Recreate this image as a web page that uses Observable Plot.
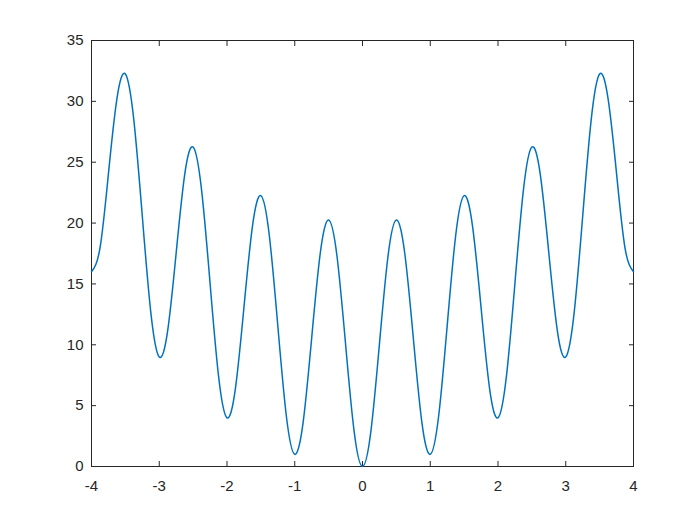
<!DOCTYPE html>
<html>
<head>
<meta charset="utf-8">
<script src="https://cdn.jsdelivr.net/npm/d3@7"></script>
<script src="https://cdn.jsdelivr.net/npm/@observablehq/plot@0.6"></script>
<style>
  html, body { margin: 0; padding: 0; background: #fff; }
  #chart svg { display: block; }
</style>
</head>
<body>
<div id="chart"></div>
<script>
// Sample positions (step 0.125) and curve values
const xValues = [
  -4, -3.875, -3.75, -3.625, -3.5, -3.375, -3.25, -3.125,
  -3, -2.875, -2.75, -2.625, -2.5, -2.375, -2.25, -2.125,
  -2, -1.875, -1.75, -1.625, -1.5, -1.375, -1.25, -1.125,
  -1, -0.875, -0.75, -0.625, -0.5, -0.375, -0.25, -0.125,
  0, 0.125, 0.25, 0.375, 0.5, 0.625, 0.75, 0.875,
  1, 1.125, 1.25, 1.375, 1.5, 1.625, 1.75, 1.875,
  2, 2.125, 2.25, 2.375, 2.5, 2.625, 2.75, 2.875,
  3, 3.125, 3.25, 3.375, 3.5, 3.625, 3.75, 3.875, 4
];
const yValues = [
  16, 17.94, 24.06, 30.21, 32.25, 28.46, 20.56, 12.69,
  9, 11.19, 17.56, 23.96, 26.25, 22.71, 15.06, 7.44,
  4, 6.44, 13.06, 19.71, 22.25, 18.96, 11.56, 4.19,
  1, 3.69, 10.56, 17.46, 20.25, 17.21, 10.06, 2.94,
  0, 2.94, 10.06, 17.21, 20.25, 17.46, 10.56, 3.69,
  1, 4.19, 11.56, 18.96, 22.25, 19.71, 13.06, 6.44,
  4, 7.44, 15.06, 22.71, 26.25, 23.96, 17.56, 11.19,
  9, 12.69, 20.56, 28.46, 32.25, 30.21, 24.06, 17.94, 16
];
const xTicks = [-4, -3, -2, -1, 0, 1, 2, 3, 4];
const yTicks = [0, 5, 10, 15, 20, 25, 30, 35];

const data = xValues.map((x, i) => ({x, y: yValues[i]}));
const axisColor = "#262626";
const blank = () => "";
const plain = (d) => String(d);

const chart = Plot.plot({
  width: 700,
  height: 525,
  marginLeft: 91,
  marginRight: 67,
  marginTop: 40,
  marginBottom: 59,
  style: {fontFamily: "'Liberation Sans', Arial, sans-serif", fontSize: "15px", color: axisColor, background: "#fff"},
  x: {domain: [-4, 4]},
  y: {domain: [0, 35]},
  marks: [
    Plot.frame({stroke: axisColor, strokeWidth: 1}),
    Plot.axisX(xTicks, {anchor: "bottom", tickSize: -5, tickPadding: 19, tickFormat: plain, stroke: axisColor, fill: axisColor, label: null}),
    Plot.axisX(xTicks, {anchor: "top", tickSize: -5, tickFormat: blank, stroke: axisColor, label: null}),
    Plot.axisY(yTicks, {anchor: "left", tickSize: -5, tickPadding: 13, tickFormat: plain, stroke: axisColor, fill: axisColor, label: null}),
    Plot.axisY(yTicks, {anchor: "right", tickSize: -5, tickFormat: blank, stroke: axisColor, label: null}),
    Plot.line(data, {x: "x", y: "y", curve: "natural", stroke: "#0072BD", strokeWidth: 1.5})
  ]
});
document.getElementById("chart").appendChild(chart);
</script>
</body>
</html>
